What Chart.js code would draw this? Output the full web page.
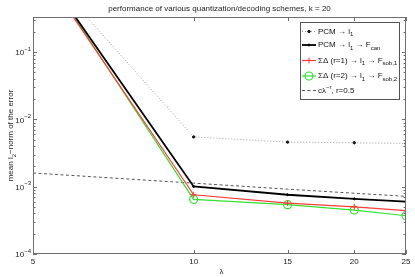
<!DOCTYPE html>
<html><head><meta charset="utf-8">
<script src="https://cdn.jsdelivr.net/npm/chart.js@4/dist/chart.umd.min.js"></script>
<style>html,body{margin:0;padding:0;background:#fff}canvas{display:block}</style>
</head><body>
<canvas id="c" width="415" height="277"></canvas>
<script>
// ---- data ----
const lambda   = [5, 10, 15, 20, 25];
const pcmL1    = [2.6, 5.5e-3, 4.6e-3, 4.5e-3, 4.4e-3];
const pcmFcan  = [2.66, 1.01e-3, 7.6e-4, 6.6e-4, 6.0e-4];
const sd1Fsob1 = [2.54, 7.6e-4, 5.7e-4, 5.0e-4, 4.4e-4];
const sd2Fsob2 = [2.9, 6.5e-4, 5.4e-4, 4.5e-4, 3.7e-4];
const refLine  = [1.6e-3, 1.13e-3, 9.2e-4, 8.0e-4, 7.2e-4];
const xTicks   = [5, 10, 15, 20, 25];
const yExps    = [-4, -3, -2, -1];
const titleText = 'performance of various quantization/decoding schemes, k = 20';

const pts = arr => lambda.map((x, i) => ({x, y: arr[i]}));
const FONT = 'Liberation Sans, Arial, sans-serif';

const legendItems = [
  {ds: 0, segs: [{t: 'PCM \u2192 l'}, {t: '1', sub: 1}]},
  {ds: 1, segs: [{t: 'PCM \u2192 l'}, {t: '1', sub: 1}, {t: ' \u2192 F'}, {t: 'can', sub: 1}]},
  {ds: 2, segs: [{t: '\u03A3\u0394 (r=1) \u2192 l'}, {t: '1', sub: 1}, {t: ' \u2192 F'}, {t: 'sob,1', sub: 1}]},
  {ds: 3, segs: [{t: '\u03A3\u0394 (r=2) \u2192 l'}, {t: '1', sub: 1}, {t: ' \u2192 F'}, {t: 'sob,2', sub: 1}]},
  {ds: 4, segs: [{t: 'c\u03BB'}, {t: '\u2212r', sup: 1}, {t: ', r=0.5'}]}
];

function drawRich(ctx, x, y, segs, size) {
  ctx.textAlign = 'left';
  ctx.textBaseline = 'middle';
  for (const s of segs) {
    const small = s.sub || s.sup;
    ctx.font = (small ? size - 2 : size) + 'px ' + FONT;
    const dy = s.sub ? 3 : (s.sup ? -3 : 0);
    ctx.fillText(s.t, x, y + dy);
    x += ctx.measureText(s.t).width;
  }
  return x;
}

function drawMarker(ctx, ds, x, y) {
  const st = ds.pointStyle, r = ds.pointRadius;
  ctx.save();
  ctx.strokeStyle = ds.pointBorderColor; ctx.fillStyle = ds.pointBackgroundColor;
  ctx.lineWidth = ds.pointBorderWidth || 1; ctx.setLineDash([]);
  if (st === 'cross') {
    ctx.beginPath(); ctx.moveTo(x - r, y); ctx.lineTo(x + r, y); ctx.moveTo(x, y - r); ctx.lineTo(x, y + r); ctx.stroke();
  } else if (r > 0) {
    ctx.beginPath(); ctx.arc(x, y, r, 0, Math.PI * 2);
    if (ds.pointBackgroundColor !== 'transparent') ctx.fill();
    ctx.stroke();
  }
  ctx.restore();
}

const decor = {
  id: 'decor',
  afterDatasetsDraw(chart) {
    const ctx = chart.ctx, a = chart.chartArea, xs = chart.scales.x, ys = chart.scales.y;
    ctx.save();
    // box
    ctx.strokeStyle = '#6e6e6e'; ctx.lineWidth = 1; ctx.setLineDash([]);
    ctx.strokeRect(Math.round(a.left) + 0.5, Math.round(a.top) + 0.5, Math.round(a.right - a.left) - 1, Math.round(a.bottom - a.top) - 1);
    // y ticks (major + minor), left and right
    ctx.beginPath();
    for (const e of yExps) {
      for (let m = 1; m <= 9; m++) {
        const v = m * Math.pow(10, e);
        if (v < ys.min || v > ys.max) continue;
        const y = Math.round(ys.getPixelForValue(v)) + 0.5;
        const len = m === 1 ? 4 : 2.5;
        ctx.moveTo(a.left, y); ctx.lineTo(a.left + len, y);
        ctx.moveTo(a.right, y); ctx.lineTo(a.right - len, y);
      }
    }
    // x ticks top and bottom
    for (const v of xTicks) {
      const x = Math.round(xs.getPixelForValue(v)) + 0.5;
      ctx.moveTo(x, a.bottom); ctx.lineTo(x, a.bottom - 4);
      ctx.moveTo(x, a.top); ctx.lineTo(x, a.top + 4);
    }
    ctx.stroke();
    // y tick labels
    ctx.fillStyle = '#222';
    for (const e of yExps) {
      const y = ys.getPixelForValue(Math.pow(10, e));
      const sup = '\u2212' + Math.abs(e);
      ctx.font = '6px ' + FONT;
      const sw = ctx.measureText(sup).width;
      const xr = a.left - 2;
      ctx.textBaseline = 'middle';
      ctx.textAlign = 'left';
      ctx.fillText(sup, xr - sw, y - 3);
      ctx.textAlign = 'right';
      ctx.font = '8px ' + FONT;
      ctx.fillText('10', xr - sw, y + 1);
    }
    // title
    ctx.font = '8px ' + FONT; ctx.textAlign = 'center'; ctx.textBaseline = 'middle';
    ctx.fillText(titleText, (a.left + a.right) / 2, 9);
    // x label
    ctx.fillText('\u03BB', (a.left + a.right) / 2 + 2, 272);
    // y label
    ctx.save();
    ctx.translate(11, (a.top + a.bottom) / 2);
    ctx.rotate(-Math.PI / 2);
    const ySegs = [{t: 'mean l'}, {t: '2', sub: 1}, {t: '\u2212norm of the error'}];
    let w = 0;
    for (const s of ySegs) { ctx.font = ((s.sub) ? 6 : 8) + 'px ' + FONT; w += ctx.measureText(s.t).width; }
    drawRich(ctx, -w / 2, 0, ySegs, 8);
    ctx.restore();
    // legend
    const lx = 300, ly = 22, lw = 99, lh = 77;
    ctx.fillStyle = '#fff'; ctx.fillRect(lx, ly, lw, lh);
    ctx.strokeStyle = '#555'; ctx.strokeRect(lx + 0.5, ly + 0.5, lw, lh);
    const rows = [31.5, 45, 60.5, 76, 90.5];
    legendItems.forEach((it, i) => {
      const ds = chart.data.datasets[it.ds];
      const y = rows[i];
      ctx.save();
      ctx.strokeStyle = ds.borderColor; ctx.lineWidth = ds.borderWidth;
      ctx.setLineDash(ds.borderDash || []);
      ctx.beginPath(); ctx.moveTo(302, y); ctx.lineTo(316, y); ctx.stroke();
      ctx.restore();
      drawMarker(ctx, ds, 309, y);
      ctx.fillStyle = '#111';
      drawRich(ctx, 318, y, it.segs, 8);
    });
    ctx.restore();
  }
};

new Chart(document.getElementById('c'), {
  type: 'line',
  data: {
    datasets: [
      {label: 'PCM l1', data: pts(pcmL1), borderColor: '#9a9a9a', borderWidth: 1, borderDash: [1, 2],
       pointStyle: 'circle', pointRadius: 1.2, pointBorderColor: '#111', pointBackgroundColor: '#111', pointBorderWidth: 1},
      {label: 'PCM l1 Fcan', data: pts(pcmFcan), borderColor: '#000', borderWidth: 1.8,
       pointStyle: 'circle', pointRadius: 1, pointBorderColor: '#000', pointBackgroundColor: '#000', pointBorderWidth: 1},
      {label: 'SD r=1', data: pts(sd1Fsob1), borderColor: '#ff3a3a', borderWidth: 1.2,
       pointStyle: 'cross', pointRadius: 3, pointBorderColor: '#ff3a3a', pointBackgroundColor: '#ff3a3a', pointBorderWidth: 1},
      {label: 'SD r=2', data: pts(sd2Fsob2), borderColor: '#33e033', borderWidth: 1.2,
       pointStyle: 'circle', pointRadius: 4, pointBorderColor: '#33e033', pointBackgroundColor: 'transparent', pointBorderWidth: 1.2},
      {label: 'ref', data: pts(refLine), borderColor: '#555', borderWidth: 1, borderDash: [3, 2.5],
       pointStyle: 'circle', pointRadius: 0, pointBorderColor: '#555', pointBackgroundColor: '#555'}
    ]
  },
  options: {
    responsive: false, animation: false, devicePixelRatio: 1,
    layout: {padding: {top: 17, right: 9, left: 0, bottom: 0}},
    elements: {line: {tension: 0, fill: false}},
    plugins: {legend: {display: false}, title: {display: false}, tooltip: {enabled: false}},
    scales: {
      x: {type: 'logarithmic', min: 5, max: 25,
          grid: {display: false, drawTicks: false}, border: {display: false},
          afterBuildTicks: s => { s.ticks = xTicks.map(v => ({value: v})); },
          ticks: {callback: v => String(v), font: {family: FONT, size: 8}, color: '#222', padding: 3, maxRotation: 0, autoSkip: false},
          afterFit: s => { s.height = 23; }},
      y: {type: 'logarithmic', min: 1e-4, max: 0.333,
          grid: {display: false, drawTicks: false}, border: {display: false},
          ticks: {display: false},
          afterFit: s => { s.width = 33; }}
    }
  },
  plugins: [decor]
});
</script>
</body></html>
